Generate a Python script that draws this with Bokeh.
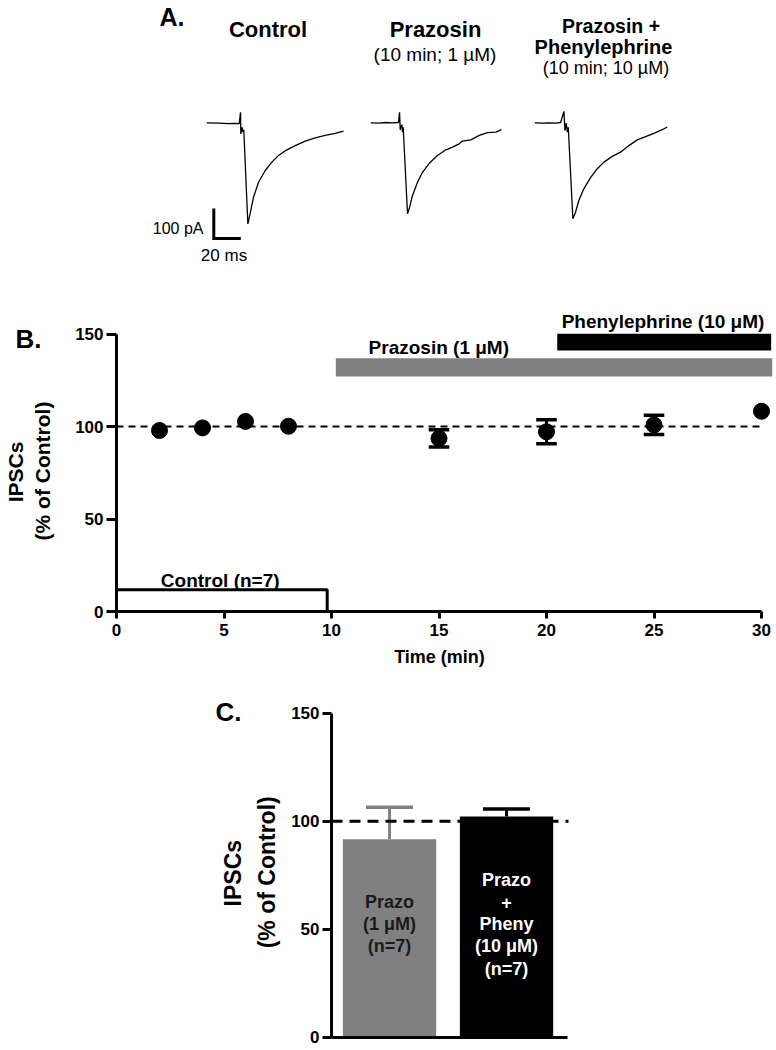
import math
from bokeh.plotting import figure
from bokeh.models import Range1d, Label, FixedTicker, LinearAxis
from bokeh.embed import file_html
from bokeh.resources import INLINE

FONT = "Liberation Sans"

# ---------------- DATA ----------------
# Panel A: example IPSC traces (time in ms from trace start, current in pA vs baseline)
ctrl_t = [0, 8.7, 16.1, 21.1, 24.0, 25.0, 25.2, 26.2, 26.7, 27.4, 30.4, 32.1, 34.6, 38.3,
          43.3, 48.2, 53.1, 59.3, 65.5, 72.9, 80.3, 87.7, 95.1, 101.3]
ctrl_i = [0, -1, -3, -2, -3, 35, -37, -15, -31, -23, -337, -303, -248, -198,
          -159, -131, -109, -90, -76, -61, -50, -42, -35, -28]
prazo_t = [0, 6.2, 11.1, 16.1, 20.5, 21.3, 21.8, 23.0, 23.5, 24.0, 27.2, 28.9, 30.9, 34.6,
           38.3, 43.3, 49.4, 55.6, 60.5, 65.5, 67.9, 74.1, 80.3, 86.4, 92.6, 96.8]
prazo_i = [0, -1, 1, 0, 1, 35, -23, -6, -31, -15, -303, -279, -242, -198,
           -165, -135, -109, -90, -81, -70, -61, -57, -42, -33, -31, -23]
phe_t = [0, 5.5, 10.4, 15.4, 19.1, 21.6, 22.3, 23.3, 24.1, 24.8, 28.2, 30.2, 32.6, 36.3,
         41.3, 46.3, 51.2, 57.4, 63.5, 69.7, 75.9, 82.1, 88.2, 94.4, 98.1]
phe_i = [0, -1, 0, -1, 1, 38, -26, -1, -31, -15, -320, -298, -259, -220,
         -183, -153, -131, -112, -98, -76, -57, -46, -35, -23, -14]
trace_titles = ["Control", "Prazosin", "Prazosin +", "Phenylephrine"]
trace_subtitles = ["(10 min; 1 \u00b5M)", "(10 min; 10 \u00b5M)"]
scalebar_pA = 100
scalebar_ms = 20

# Panel B: time course
time_min = [2, 4, 6, 8, 15, 20, 25, 30]
ipsc_mean = [97.9, 99.3, 102.8, 100.2, 93.6, 97.2, 100.9, 108.3]
ipsc_sem = [2.5, 2.0, 2.5, 2.0, 4.7, 6.5, 5.2, 2.5]
time_ticks = [0, 5, 10, 15, 20, 25, 30]
pct_ticks = [0, 50, 100, 150]
control_period = [0, 9.8]
prazosin_period = [10.2, 30.5]
phenylephrine_period = [20.5, 30.45]
baseline_pct = 100

# Panel C: summary bars
group_labels = [["Prazo", "(1 \u03bcM)", "(n=7)"],
                ["Prazo", "+", "Pheny", "(10 \u03bcM)", "(n=7)"]]
group_mean = [91.7, 102.2]
group_sem = [14.8, 3.5]

# ---------------- helpers ----------------
TXT_DY = 5  # baseline correction (px, upward)


def lab(p, fx, fy, px, py, text, size, bold=True, align="center", baseline="alphabetic",
        angle=0.0, color="black"):
    if baseline == "alphabetic":
        py = py - TXT_DY
    p.add_layout(Label(x=fx(px), y=fy(py), text=text, text_font=FONT,
                       text_font_size=f"{size}px",
                       text_font_style="bold" if bold else "normal", text_align=align,
                       text_baseline=baseline, angle=angle, text_color=color))


def style_axis(ax, tick_out, standoff):
    ax.axis_line_width = 3
    ax.axis_line_color = "black"
    ax.major_tick_line_width = 3
    ax.major_tick_line_color = "black"
    ax.major_tick_out = tick_out
    ax.major_tick_in = 0
    ax.minor_tick_line_color = None
    ax.major_label_text_font = FONT
    ax.major_label_text_font_size = "17px"
    ax.major_label_text_font_style = "bold"
    ax.major_label_text_color = "black"
    ax.major_label_standoff = standoff


def make_fig(w, h, xr, yr):
    p = figure(width=w, height=h, x_range=Range1d(*xr), y_range=Range1d(*yr),
               x_axis_location=None, y_axis_location=None, min_border=0,
               toolbar_location=None, output_backend="svg", outline_line_color=None)
    p.grid.visible = False
    return p


W = 776

# ---------------- Panel A ----------------
A_TOP, HA = 0, 290
PXMS, PXPA = 1.35, 0.3
A_X0, A_Y0 = 206.3, 122.3  # page position of first trace start / baseline


def ax(px):
    return (px - A_X0) / PXMS


def ay(py):
    return (A_Y0 - py) / PXPA


pA = make_fig(W, HA, (ax(0), ax(W)), (ay(A_TOP + HA), ay(A_TOP)))

traces = [(ctrl_t, ctrl_i, 206.3), (prazo_t, prazo_i, 370.3), (phe_t, phe_i, 534.3)]
for tt, ii, start_px in traces:
    off = ax(start_px)
    pA.line([t + off for t in tt], ii, line_color="black", line_width=1.3)

sb_x, sb_y = ax(213.3), ay(238)
pA.line([sb_x, sb_x, sb_x + scalebar_ms], [sb_y + scalebar_pA, sb_y, sb_y],
        line_color="black", line_width=3, line_join="miter")
lab(pA, ax, ay, 203, 233, f"{scalebar_pA} pA", 16, bold=False, align="right")
lab(pA, ax, ay, 223.5, 260, f"{scalebar_ms} ms", 17, bold=False)

lab(pA, ax, ay, 159, 21, "A.", 25, align="left")
lab(pA, ax, ay, 267.5, 34, trace_titles[0], 22)
lab(pA, ax, ay, 435, 34, trace_titles[1], 22)
lab(pA, ax, ay, 434.5, 58.5, trace_subtitles[0], 19, bold=False)
lab(pA, ax, ay, 610.5, 30, trace_titles[2], 19.5)
lab(pA, ax, ay, 603, 51.5, trace_titles[3], 20)
lab(pA, ax, ay, 605.5, 72.5, trace_subtitles[1], 18, bold=False)

# ---------------- Panel B ----------------
B_TOP, HB = 290, 385
B_L, B_B = 116, 611          # page position of x=0 / y=0
BSX, BSY = 21.5, 1.849


def bx(px):
    return (px - B_L) / BSX


def by(py):
    return (B_B - py) / BSY


pB = make_fig(W, HB, (bx(0), bx(W)), (by(B_TOP + HB), by(B_TOP)))

xaxB = LinearAxis(ticker=FixedTicker(ticks=time_ticks), fixed_location=0,
                  bounds=(time_ticks[0], time_ticks[-1]))
style_axis(xaxB, 7, 5)
pB.add_layout(xaxB, "below")
yaxB = LinearAxis(ticker=FixedTicker(ticks=pct_ticks), fixed_location=0,
                  bounds=(pct_ticks[0], pct_ticks[-1]))
style_axis(yaxB, 10, 3)
pB.add_layout(yaxB, "left")

pB.quad(left=[prazosin_period[0]], right=[prazosin_period[1]], bottom=[by(376)],
        top=[by(357.7)], fill_color="#808080", line_color=None)
pB.quad(left=[phenylephrine_period[0]], right=[phenylephrine_period[1]], bottom=[by(350)],
        top=[by(333.3)], fill_color="black", line_color=None)
pB.quad(left=[control_period[0]], right=[control_period[1]], bottom=[0],
        top=[by(589.3)], fill_color=None, line_color="black", line_width=3)
pB.line([time_ticks[0], time_ticks[-1]], [baseline_pct, baseline_pct],
        line_color="black", line_width=2, line_dash="7 5")

cap = 10.3 / BSX
for t, m, s in zip(time_min, ipsc_mean, ipsc_sem):
    if s * BSY > 8:
        pB.segment(x0=[t], y0=[m - s], x1=[t], y1=[m + s], line_color="black", line_width=3)
        pB.segment(x0=[t - cap, t - cap], y0=[m - s, m + s], x1=[t + cap, t + cap],
                   y1=[m - s, m + s], line_color="black", line_width=3.5)
pB.scatter(time_min, ipsc_mean, size=16, fill_color="black", line_color="black")

lab(pB, bx, by, 15, 343.3, "B.", 26, align="left")
lab(pB, bx, by, 15, 471.5, "IPSCs", 21, baseline="middle", angle=math.pi / 2)
lab(pB, bx, by, 42, 470.5, "(% of Control)", 21, baseline="middle", angle=math.pi / 2)
lab(pB, bx, by, 438.3, 351.7, "Prazosin (1 \u03bcM)", 19)
lab(pB, bx, by, 662.5, 325.5, "Phenylephrine (10 \u03bcM)", 19)
lab(pB, bx, by, 219.7, 585, "Control (n=7)", 19)
lab(pB, bx, by, 439, 661.7, "Time (min)", 18)

# ---------------- Panel C ----------------
C_TOP, HC = 675, 374
C_SHIFT = 4                         # lift panel C a little so the "0" label fits
C_L, C_R, C_B = 331, 567, 1040.7   # page x of y-axis, right end of x-axis, y=0
CX0 = 0.504                         # x value at the y-axis
CSX, CSY = 117.0, 2.16


def cx(px):
    return CX0 + (px - C_L) / CSX


def cy(py):
    return (C_B - py) / CSY


pC = make_fig(W, HC, (cx(0), cx(W)),
              (cy(C_TOP + HC + C_SHIFT), cy(C_TOP + C_SHIFT)))

yaxC = LinearAxis(ticker=FixedTicker(ticks=pct_ticks), fixed_location=cx(C_L),
                  bounds=(pct_ticks[0], pct_ticks[-1]))
style_axis(yaxC, 9, 3)
pC.add_layout(yaxC, "left")
xaxC = LinearAxis(ticker=FixedTicker(ticks=[]), fixed_location=0,
                  bounds=(cx(C_L), cx(C_R)))
style_axis(xaxC, 0, 0)
xaxC.major_label_text_font_size = "0px"
pC.add_layout(xaxC, "below")

xs = [i + 1 for i in range(len(group_mean))]
bar_colors = ["#808080", "black"]
pC.vbar(x=xs, width=93.3 / CSX, top=group_mean, bottom=0, fill_color=bar_colors,
        line_color=None)
ccap = 23.5 / CSX
for x, m, s, c in zip(xs, group_mean, group_sem, bar_colors):
    pC.segment(x0=[x], y0=[m], x1=[x], y1=[m + s], line_color=c, line_width=3)
    pC.segment(x0=[x - ccap], y0=[m + s], x1=[x + ccap], y1=[m + s], line_color=c,
               line_width=3.5)
pC.line([cx(C_L), cx(C_R + 1)], [baseline_pct, baseline_pct], line_color="black",
        line_width=3, line_dash="11 7")

text_colors = ["#1a1a1a", "white"]
first_baselines = [910, 888.3]
for x, lines, tc, fb in zip(xs, group_labels, text_colors, first_baselines):
    for k, ln in enumerate(lines):
        pC.add_layout(Label(x=x, y=cy(fb + k * 22.2 - TXT_DY), text=ln, text_font=FONT,
                            text_font_size="18px", text_font_style="bold",
                            text_align="center", text_baseline="alphabetic",
                            text_color=tc))

lab(pC, cx, cy, 215, 720, "C.", 26, align="left")
lab(pC, cx, cy, 232, 876.7, "IPSCs", 23, baseline="middle", angle=math.pi / 2)
lab(pC, cx, cy, 266, 875.8, "(% of Control)", 23, baseline="middle", angle=math.pi / 2)

open("out.html", "w").write(file_html([pA, pB, pC], INLINE))
